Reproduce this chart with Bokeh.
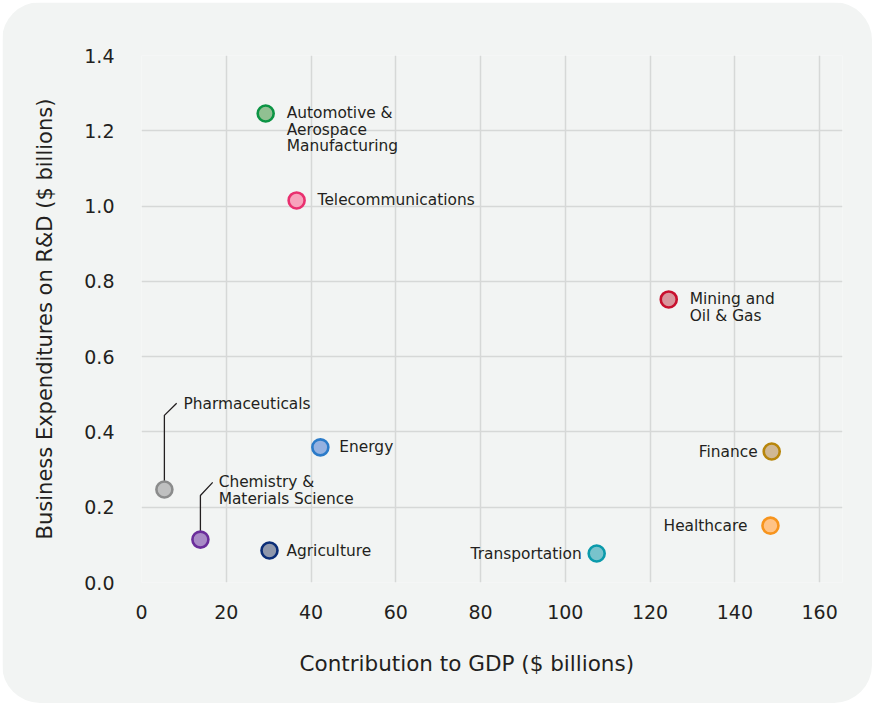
from bokeh.plotting import figure
from bokeh.models import ColumnDataSource, FixedTicker, Range1d, Title
from bokeh.embed import file_html
from bokeh.resources import INLINE
from bokeh.core.properties import value

# ---- data ----
sectors = ["Automotive &\nAerospace\nManufacturing", "Telecommunications", "Mining and\nOil & Gas",
           "Pharmaceuticals", "Energy", "Chemistry &\nMaterials Science", "Agriculture",
           "Transportation", "Finance", "Healthcare"]
gdp = [29.3, 36.6, 124.4, 5.4, 42.2, 13.9, 30.2, 107.4, 148.7, 148.4]
rnd = [1.246, 1.015, 0.752, 0.247, 0.359, 0.114, 0.085, 0.077, 0.348, 0.151]
fills = ["#91c092", "#f7a3bc", "#d8969d", "#bfc0c0", "#95b1e0", "#a98bc6", "#8f97ab", "#78c3cc", "#d0b894", "#ffc386"]
strokes = ["#0c9444", "#e9306f", "#c8102e", "#8b8c8c", "#2b7bc9", "#6b2d9b", "#0b2d77", "#0b9aab", "#b8860b", "#f7941d"]

# label placement (pixel offsets from the point); callout labels handled separately
label_dx = [21, 21, 21, None, 19, None, 17, -15, -14, -23]
label_align = ["left", "left", "left", None, "left", None, "left", "right", "right", "right"]

# callouts: leader elbow and label anchor (data units)
callout_idx = [3, 5]
callout_elbow_y = [0.444, 0.231]
callout_end_x = [8.3, 16.8]
callout_end_y = [0.476, 0.266]
callout_text_x = [9.9, 18.2]
callout_text_y = [0.473, 0.266]

x_ticks = [0, 20, 40, 60, 80, 100, 120, 140, 160]
y_ticks = [0.0, 0.2, 0.4, 0.6, 0.8, 1.0, 1.2, 1.4]
x_title = "Contribution to GDP ($ billions)"
y_title = "Business Expenditures on R&D ($ billions)"

PANEL = "#f2f4f3"
GRID = "#d6d8d7"
TEXT = "#231f20"
FONT = "DejaVu Sans"

p = figure(width=870, height=701, output_backend="svg", toolbar_location=None,
           x_range=Range1d(0, 165.4), y_range=Range1d(0, 1.4),
           min_border_left=139, min_border_right=30, min_border_top=53, min_border_bottom=121,
           background_fill_color=PANEL, border_fill_color=PANEL, outline_line_color=None)
p.styles = {"border-radius": "38px", "overflow": "hidden", "margin-left": "2px", "margin-top": "2px"}

for ax in (p.xaxis, p.yaxis):
    ax.axis_line_color = None
    ax.major_tick_line_color = None
    ax.minor_tick_line_color = None
    ax.major_label_text_font = FONT
    ax.major_label_text_font_size = "19px"
    ax.major_label_text_color = TEXT
    ax.axis_label_text_font = FONT
    ax.axis_label_text_font_size = "21px"
    ax.axis_label_text_font_style = "normal"
    ax.axis_label_text_color = TEXT

p.xaxis.ticker = FixedTicker(ticks=x_ticks)
p.yaxis.ticker = FixedTicker(ticks=y_ticks)
p.yaxis.major_label_overrides = {t: f"{t:.1f}" for t in y_ticks}
p.xaxis.major_label_standoff = 16
p.yaxis.major_label_standoff = 21
p.yaxis.axis_label = y_title
p.yaxis.axis_label_standoff = 24

# x title sits left of the frame centre in the original
p.add_layout(Title(text=x_title, align="left", offset=158, standoff=54,
                   text_font=FONT, text_font_size="21.5px", text_font_style="normal",
                   text_color=TEXT), "below")

p.xgrid.grid_line_color = GRID
p.ygrid.grid_line_color = GRID
p.xgrid.grid_line_width = 1.5
p.ygrid.grid_line_width = 1.5

# leader lines for callouts
for k, i in enumerate(callout_idx):
    p.line([gdp[i], gdp[i], callout_end_x[k]], [rnd[i], callout_elbow_y[k], callout_end_y[k]],
           line_color=TEXT, line_width=1.3)

src = ColumnDataSource(dict(x=gdp, y=rnd, fill=fills, stroke=strokes))
p.scatter("x", "y", source=src, size=16, fill_color="fill", line_color="stroke", line_width=2.6)

for i, name in enumerate(sectors):
    if label_dx[i] is None:
        continue
    p.text([gdp[i]], [rnd[i]], text=[name], x_offset=label_dx[i], y_offset=-9,
           text_align=label_align[i], text_baseline="top", text_font=value(FONT),
           text_font_size="15.4px", text_color=TEXT, text_line_height=0.9)

for k, i in enumerate(callout_idx):
    p.text([callout_text_x[k]], [callout_text_y[k]], text=[sectors[i]], y_offset=-9,
           text_align="left", text_baseline="top", text_font=value(FONT),
           text_font_size="15.4px", text_color=TEXT, text_line_height=0.9)

open("out.html", "w").write(file_html(p, INLINE))
